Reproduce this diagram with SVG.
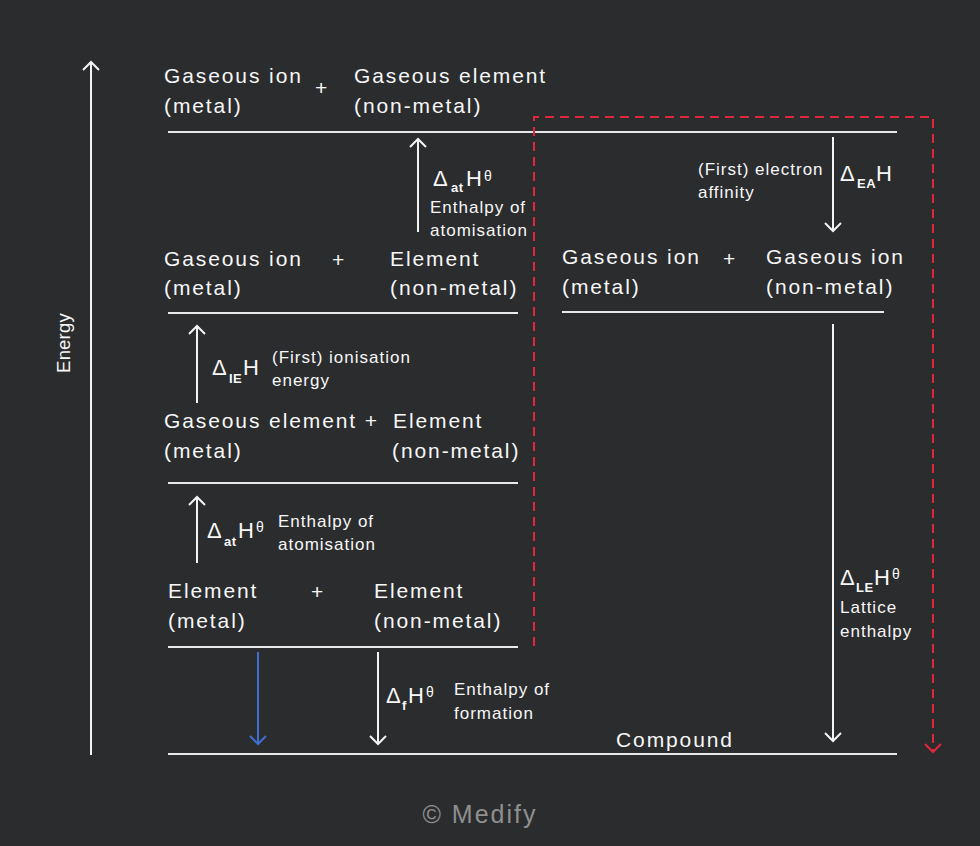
<svg xmlns="http://www.w3.org/2000/svg" width="980" height="846" viewBox="0 0 980 846">
<defs>
<style>
text{font-family:"Liberation Sans",Arial,sans-serif;fill:#f7f7f7}
.big{font-size:21px;letter-spacing:1.9px}
.sm{font-size:17px;letter-spacing:1px}
.axl{font-size:18.5px;letter-spacing:0.2px}
.d{font-size:22px}
.sub{font-size:13px;font-weight:bold;letter-spacing:0.5px}
.sup{font-size:14px}
.lvl{stroke:#e9e9e9;stroke-width:2.2;fill:none}
.arr{stroke:#f4f4f4;stroke-width:2;fill:none;marker-end:url(#ahw)}
.blue{stroke:#3f6fd2;stroke-width:2;fill:none;marker-end:url(#ahb)}
.red{stroke:#e0283c;stroke-width:2;fill:none;stroke-dasharray:9 6;marker-end:url(#ahr)}
</style>
<marker id="ahw" viewBox="-10 -10 20 20" markerWidth="20" markerHeight="20" markerUnits="userSpaceOnUse" refX="0" refY="0" orient="auto"><path d="M-8,-8 L0,0 L-8,8" fill="none" stroke="#f4f4f4" stroke-width="2"/></marker>
<marker id="ahb" viewBox="-10 -10 20 20" markerWidth="20" markerHeight="20" markerUnits="userSpaceOnUse" refX="0" refY="0" orient="auto"><path d="M-8,-8 L0,0 L-8,8" fill="none" stroke="#3f6fd2" stroke-width="2"/></marker>
<marker id="ahr" viewBox="-10 -10 20 20" markerWidth="20" markerHeight="20" markerUnits="userSpaceOnUse" refX="0" refY="0" orient="auto"><path d="M-8,-8 L0,0 L-8,8" fill="none" stroke="#e0283c" stroke-width="2"/></marker>
</defs>
<rect x="0" y="0" width="980" height="846" fill="#2b2c2e"/>

<g id="axis">
<line class="arr" x1="91" y1="755" x2="91" y2="62"/>
<text class="axl" transform="translate(70,343) rotate(-90)" text-anchor="middle">Energy</text>
</g>

<g id="level-gaseous-ion-gaseous-element">
<line class="lvl" x1="168" y1="132" x2="897" y2="132"/>
<text class="big" x="164" y="83">Gaseous ion</text>
<text class="big" x="164" y="113">(metal)</text>
<text class="big" x="315" y="95">+</text>
<text class="big" x="354" y="83">Gaseous element</text>
<text class="big" x="354" y="113">(non-metal)</text>
</g>

<g id="level-gaseous-ion-element">
<line class="lvl" x1="168" y1="313" x2="518" y2="313"/>
<text class="big" x="164" y="266">Gaseous ion</text>
<text class="big" x="164" y="295">(metal)</text>
<text class="big" x="332" y="267">+</text>
<text class="big" x="390" y="266">Element</text>
<text class="big" x="390" y="295">(non-metal)</text>
</g>

<g id="level-gaseous-ions">
<line class="lvl" x1="562" y1="312" x2="884" y2="312"/>
<text class="big" x="562" y="264">Gaseous ion</text>
<text class="big" x="562" y="294">(metal)</text>
<text class="big" x="723" y="266">+</text>
<text class="big" x="766" y="264">Gaseous ion</text>
<text class="big" x="766" y="294">(non-metal)</text>
</g>

<g id="level-gaseous-element-element">
<line class="lvl" x1="168" y1="483" x2="518" y2="483"/>
<text class="big" x="164" y="428">Gaseous element +</text>
<text class="big" x="164" y="458">(metal)</text>
<text class="big" x="393" y="428">Element</text>
<text class="big" x="392" y="458">(non-metal)</text>
</g>

<g id="level-elements">
<line class="lvl" x1="168" y1="647" x2="518" y2="647"/>
<text class="big" x="168" y="598">Element</text>
<text class="big" x="168" y="628">(metal)</text>
<text class="big" x="311" y="599">+</text>
<text class="big" x="374" y="598">Element</text>
<text class="big" x="374" y="628">(non-metal)</text>
</g>

<g id="level-compound">
<line class="lvl" x1="168" y1="754" x2="897" y2="754"/>
<text class="big" x="616" y="747">Compound</text>
</g>

<g id="connectors">
<line class="arr" x1="418" y1="232" x2="418" y2="139"/>
<line class="arr" x1="833" y1="137" x2="833" y2="231"/>
<line class="arr" x1="197" y1="403" x2="197" y2="326"/>
<line class="arr" x1="197" y1="563" x2="197" y2="497"/>
<line class="blue" x1="258" y1="652" x2="258" y2="744"/>
<line class="arr" x1="378" y1="652" x2="378" y2="744"/>
<line class="arr" x1="833" y1="324" x2="833" y2="741"/>
<path class="red" d="M534,646 V117 H933 V752"/>
</g>

<g id="label-atomisation-nonmetal">
<text><tspan class="d" x="433" y="186">Δ</tspan><tspan class="sub" x="451" y="192">at</tspan><tspan class="d" x="466" y="186">H</tspan><tspan class="sup" x="484" y="181">θ</tspan></text>
<text class="sm" x="430" y="213">Enthalpy of</text>
<text class="sm" x="430" y="236">atomisation</text>
</g>

<g id="label-electron-affinity">
<text class="sm" x="698" y="175">(First) electron</text>
<text class="sm" x="698" y="198">affinity</text>
<text><tspan class="d" x="840" y="181">Δ</tspan><tspan class="sub" x="857" y="188">EA</tspan><tspan class="d" x="876" y="181">H</tspan></text>
</g>

<g id="label-ionisation">
<text><tspan class="d" x="212" y="375">Δ</tspan><tspan class="sub" x="229" y="383">IE</tspan><tspan class="d" x="243" y="375">H</tspan></text>
<text class="sm" x="272" y="363">(First) ionisation</text>
<text class="sm" x="272" y="386">energy</text>
</g>

<g id="label-atomisation-metal">
<text><tspan class="d" x="207" y="538">Δ</tspan><tspan class="sub" x="224" y="546">at</tspan><tspan class="d" x="238" y="538">H</tspan><tspan class="sup" x="256" y="532">θ</tspan></text>
<text class="sm" x="278" y="527">Enthalpy of</text>
<text class="sm" x="278" y="550">atomisation</text>
</g>

<g id="label-formation">
<text><tspan class="d" x="386" y="703">Δ</tspan><tspan class="sub" x="402" y="710">f</tspan><tspan class="d" x="408" y="703">H</tspan><tspan class="sup" x="426" y="697">θ</tspan></text>
<text class="sm" x="454" y="695">Enthalpy of</text>
<text class="sm" x="454" y="719">formation</text>
</g>

<g id="label-lattice">
<text><tspan class="d" x="840" y="585">Δ</tspan><tspan class="sub" x="856" y="592">LE</tspan><tspan class="d" x="874" y="585">H</tspan><tspan class="sup" x="892" y="579">θ</tspan></text>
<text class="sm" x="840" y="613">Lattice</text>
<text class="sm" x="840" y="637">enthalpy</text>
</g>

<text x="480" y="823" text-anchor="middle" style="font-size:25px;letter-spacing:2px;fill:#8f8f8f">© Medify</text>
</svg>
